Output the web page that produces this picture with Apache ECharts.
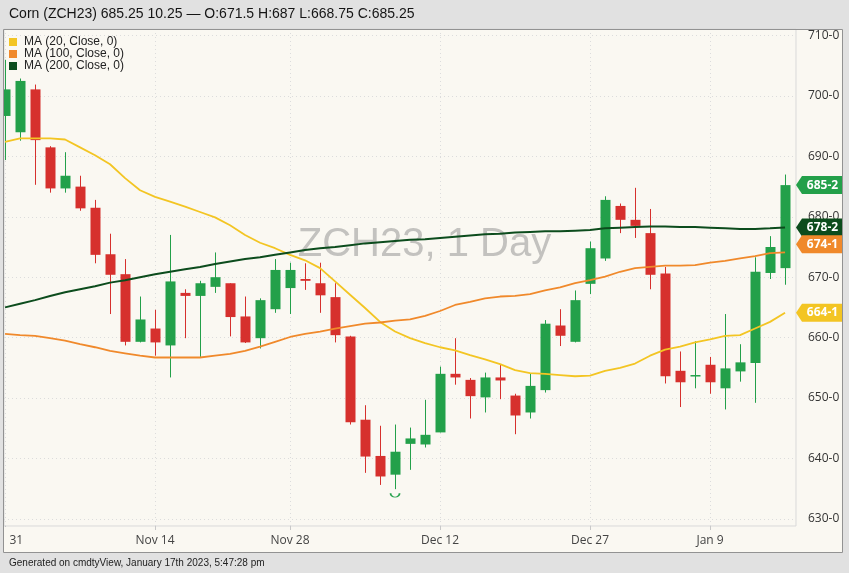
<!DOCTYPE html>
<html><head><meta charset="utf-8">
<script src="https://cdn.jsdelivr.net/npm/echarts@6/dist/echarts.min.js"></script>
<style>html,body{margin:0;padding:0;background:#e1e1e1;}#c{width:849px;height:573px;}</style>
</head><body><div id="c"></div>
<script>
// ---- data ----
const dates = ['Oct 31','Nov 1','Nov 2','Nov 3','Nov 4','Nov 7','Nov 8','Nov 9','Nov 10','Nov 11',
  'Nov 14','Nov 15','Nov 16','Nov 17','Nov 18','Nov 21','Nov 22','Nov 23','Nov 25',
  'Nov 28','Nov 29','Nov 30','Dec 1','Dec 2','Dec 5','Dec 6','Dec 7','Dec 8','Dec 9',
  'Dec 12','Dec 13','Dec 14','Dec 15','Dec 16','Dec 19','Dec 20','Dec 21','Dec 22','Dec 23',
  'Dec 27','Dec 28','Dec 29','Dec 30','Jan 3','Jan 4','Jan 5','Jan 6',
  'Jan 9','Jan 10','Jan 11','Jan 12','Jan 13','Jan 17'];
const opens = [696.7,694.0,701.1,691.5,684.7,685.0,681.5,673.8,670.5,659.3,
  661.5,658.7,667.4,666.9,668.4,669.0,663.5,659.9,664.7,
  668.2,669.7,669.0,666.7,660.2,646.4,640.4,637.3,642.4,642.3,
  644.3,654.0,653.0,650.1,653.4,650.4,647.6,651.3,662.0,659.3,
  668.9,673.1,681.8,679.5,677.3,670.6,654.5,653.8,
  655.5,651.6,654.4,655.8,670.7,671.5];
const closes = [701.1,702.5,692.7,684.7,686.8,681.4,673.7,670.4,659.3,663.0,
  659.2,669.3,666.9,669.0,670.0,663.4,659.2,666.2,671.2,
  671.2,669.4,667.0,660.4,646.0,640.3,637.0,641.1,643.3,643.9,
  654.0,653.4,650.3,653.4,652.9,647.1,652.0,662.3,660.3,666.2,
  674.8,682.8,679.5,678.5,670.4,653.6,652.6,653.8,
  652.6,654.9,655.9,670.9,675.0,685.25];
const lows = [689.4,692.6,685.3,684.0,684.0,681.0,672.3,663.9,658.7,659.2,
  657.0,653.4,659.9,656.8,667.4,660.2,659.1,658.2,664.1,
  663.9,667.9,664.1,659.2,645.6,637.6,635.6,634.9,638.1,641.8,
  644.3,652.2,646.6,647.6,649.8,644.0,646.6,650.9,658.6,659.2,
  667.2,672.7,677.3,676.5,668.0,652.4,648.5,651.6,
  650.7,648.1,652.7,649.2,669.7,668.75];
const highs = [706.0,702.9,701.9,691.7,690.7,686.8,682.8,677.2,673.0,666.8,
  664.6,677.0,668.0,669.4,674.1,669.0,666.8,666.5,673.0,
  672.4,672.3,672.4,669.0,660.3,648.8,645.4,645.6,645.1,649.7,
  655.2,659.9,653.3,654.2,655.6,650.7,654.1,662.9,664.7,667.8,
  675.9,683.4,682.2,684.8,681.3,671.7,657.7,659.4,
  656.8,663.9,658.9,673.3,676.8,687.0];
const ma20 = [692.4,693.0,693.0,693.0,692.8,691.5,690.2,688.7,686.4,684.4,
  683.3,682.5,681.7,680.8,679.9,678.6,677.0,675.7,674.8,
  673.7,672.8,671.5,669.3,667.1,664.9,662.6,661.0,659.9,659.1,
  658.4,657.9,657.1,656.4,655.6,654.6,654.1,654.0,653.8,653.6,
  653.7,654.5,655.0,655.7,657.0,658.0,658.5,659.2,
  659.7,660.3,660.4,661.5,662.6,664.125];
const ma100 = [660.6,660.4,660.3,659.9,659.5,658.9,658.4,657.8,657.4,657.0,
  656.7,656.7,656.7,656.7,657.0,657.3,657.8,658.5,659.3,
  660.1,660.6,661.0,661.5,661.9,662.3,662.5,662.8,663.0,663.6,
  664.4,665.4,665.9,666.5,666.8,666.9,667.2,667.8,668.3,669.0,
  669.5,670.1,670.9,671.5,671.7,671.9,671.9,672.0,
  672.4,672.7,673.1,673.5,674.0,674.125];
const ma200 = [665.0,665.6,666.2,666.9,667.5,668.0,668.5,669.1,669.5,670.0,
  670.5,670.9,671.3,671.7,672.2,672.6,673.0,673.3,673.7,
  674.1,674.5,674.8,675.0,675.3,675.6,675.8,676.0,676.2,676.3,
  676.5,676.7,676.9,677.1,677.2,677.4,677.5,677.6,677.6,677.7,
  677.8,678.1,678.2,678.3,678.4,678.4,678.3,678.3,
  678.2,678.1,678.0,678.0,678.1,678.25];
const maNames = ['MA (20, Close, 0)','MA (100, Close, 0)','MA (200, Close, 0)'];
const xLabelIdx = [0,10,19,29,39,47];
const yTicks = [630,640,650,660,670,680,690,700,710];
const tagValues = [685.25, 678.25, 674.125, 664.125];
const tagTexts = ['685-2','678-2','674-1','664-1'];
const headerText = 'Corn (ZCH23) 685.25 10.25 \u2014 O:671.5 H:687 L:668.75 C:685.25';
const footerText = 'Generated on cmdtyView, January 17th 2023, 5:47:28 pm';
const watermark = 'ZCH23, 1 Day';
const markerIdx = [26];

// ---- styles ----
const UP = '#23a04a', DOWN = '#d6302d';
const C20 = '#f3c523', C100 = '#f0892b', C200 = '#0c4c1d';
const tagColors = [UP, C200, C100, C20];
const tagShift = [0, 0, -8, 0];
const CREAM = '#faf8f2', PAGE = '#e1e1e1';
const X_MIN = -0.07, X_MAX = 52.73;
const BODY_W = 10;

const chart = echarts.init(document.getElementById('c'));
const candle = dates.map((d, i) => [i, opens[i], closes[i], lows[i], highs[i]]);
const line = arr => arr.map((v, i) => [i, v]);

function renderCandle(params, api) {
  const i = api.value(0), o = api.value(1), c = api.value(2), l = api.value(3), h = api.value(4);
  const po = api.coord([i, o]), pc = api.coord([i, c]), pl = api.coord([i, l]), ph = api.coord([i, h]);
  const up = c > o || (c === o && (i === 0 || closes[i - 1] <= c));
  const col = up ? UP : DOWN;
  const cx = Math.round(po[0]) + 0.5;
  const top = Math.min(po[1], pc[1]);
  const bh = Math.max(Math.abs(po[1] - pc[1]), 1.5);
  return { type: 'group', children: [
    { type: 'line', shape: { x1: cx, y1: ph[1], x2: cx, y2: pl[1] }, style: { stroke: col, lineWidth: 1 } },
    { type: 'rect', shape: { x: cx - BODY_W / 2, y: top, width: BODY_W, height: bh }, style: { fill: col } }
  ] };
}

chart.setOption({
  animation: false,
  backgroundColor: PAGE,
  grid: { left: 4, top: 29, right: 53, bottom: 47, show: true, borderColor: '#d9d9d9', borderWidth: 1,
    backgroundColor: 'transparent', containLabel: false, outerBoundsMode: 'none' },
  legend: {
    left: 9, top: 36, padding: 0, orient: 'vertical', itemWidth: 8, itemHeight: 8, itemGap: 0, icon: 'rect',
    data: maNames, selectedMode: false,
    textStyle: { fontSize: 12, color: '#222', fontFamily: 'Liberation Sans', lineHeight: 12, padding: [0, 0, 0, 2] }
  },
  xAxis: {
    type: 'value', min: X_MIN, max: X_MAX,
    axisLine: { show: false }, splitLine: { show: false },
    axisTick: { show: true, customValues: xLabelIdx, length: 4, lineStyle: { color: '#c8c8c8' } },
    axisLabel: { customValues: xLabelIdx, formatter: v => dates[Math.round(v)], color: '#444',
      fontFamily: 'Open Sans', fontSize: 12, margin: 9 }
  },
  yAxis: {
    type: 'value', position: 'right', min: 628.8, max: 711.1, scale: true,
    axisLine: { show: false }, axisTick: { show: false }, splitLine: { show: false },
    axisLabel: { customValues: yTicks, formatter: v => v + '-0', color: '#333',
      fontFamily: 'Open Sans', fontSize: 12, margin: 12 }
  },
  graphic: [
    { type: 'rect', z: -10, shape: { x: 3.5, y: 29.5, width: 839, height: 523 }, style: { fill: CREAM } },
    { type: 'rect', z: 40, shape: { x: 0, y: 527, width: 3.5, height: 26 }, style: { fill: PAGE } },
    { type: 'rect', z: 40, shape: { x: 3.5, y: 527, width: 2.5, height: 25 }, style: { fill: CREAM } },
    { type: 'rect', z: 50, shape: { x: 3.5, y: 29.5, width: 839, height: 523 }, style: { fill: 'none', stroke: '#929292', lineWidth: 1 } },
    { type: 'text', z: 0, x: 424.5, y: 245, style: { text: watermark, align: 'center', verticalAlign: 'middle',
      font: '40px "Liberation Sans"', fill: 'rgba(140,140,140,0.5)' } },
    { type: 'text', z: 50, x: 9, y: 14, style: { text: headerText, verticalAlign: 'middle',
      font: '14px "Liberation Sans"', fill: '#151515' } },
    { type: 'text', z: 50, x: 9, y: 563, style: { text: footerText, verticalAlign: 'middle',
      font: '10px "Liberation Sans"', fill: '#222' } }
  ],
  series: [
    {
      type: 'custom', name: 'ZCH23', z: 3, clip: true, silent: true,
      data: candle, encode: { x: 0, y: [1, 2, 3, 4] },
      renderItem: renderCandle,
      markLine: {
        z: 1, silent: true, symbol: 'none', label: { show: false }, animation: false,
        lineStyle: { color: '#dcdcdc', type: [1, 3], width: 1 },
        emphasis: { disabled: true },
        data: yTicks.map(v => ({ yAxis: v })).concat(xLabelIdx.map(i => ({ xAxis: i })))
      },
      markPoint: {
        silent: true, label: { show: false },
        data: markerIdx.map(i => ({ coord: [i, lows[i]], symbol: 'path://M0,0 A5,5 0 0 0 10,0',
          symbolSize: [9, 4], symbolOffset: [0, 6],
          itemStyle: { color: 'transparent', borderColor: UP, borderWidth: 1.2 } }))
      }
    },
    { type: 'line', name: maNames[0], z: 4, data: line(ma20), showSymbol: false, symbol: 'none',
      color: C20, lineStyle: { color: C20, width: 1.8 } },
    { type: 'line', name: maNames[1], z: 4, data: line(ma100), showSymbol: false, symbol: 'none',
      color: C100, lineStyle: { color: C100, width: 1.8 } },
    { type: 'line', name: maNames[2], z: 4, data: line(ma200), showSymbol: false, symbol: 'none',
      color: C200, lineStyle: { color: C200, width: 2 } },
    {
      type: 'custom', name: 'tags', z: 10, clip: false, silent: true,
      data: tagValues.map((v, i) => [X_MAX, v, i]), encode: { x: 0, y: 1 },
      renderItem: function (params, api) {
        const i = api.value(2);
        const p = api.coord([api.value(0), api.value(1)]);
        const x = p[0], y = p[1] + tagShift[i], h = 9;
        return { type: 'group', children: [
          { type: 'polygon', shape: { points: [[x, y], [x + 6, y - h], [x + 47, y - h], [x + 47, y + h], [x + 6, y + h]] },
            style: { fill: tagColors[i] } },
          { type: 'text', style: { text: tagTexts[i], x: x + 26.5, y: y, align: 'center', verticalAlign: 'middle',
            fill: '#fff', font: 'bold 12px "Open Sans"' } }
        ] };
      }
    }
  ]
});
</script></body></html>
